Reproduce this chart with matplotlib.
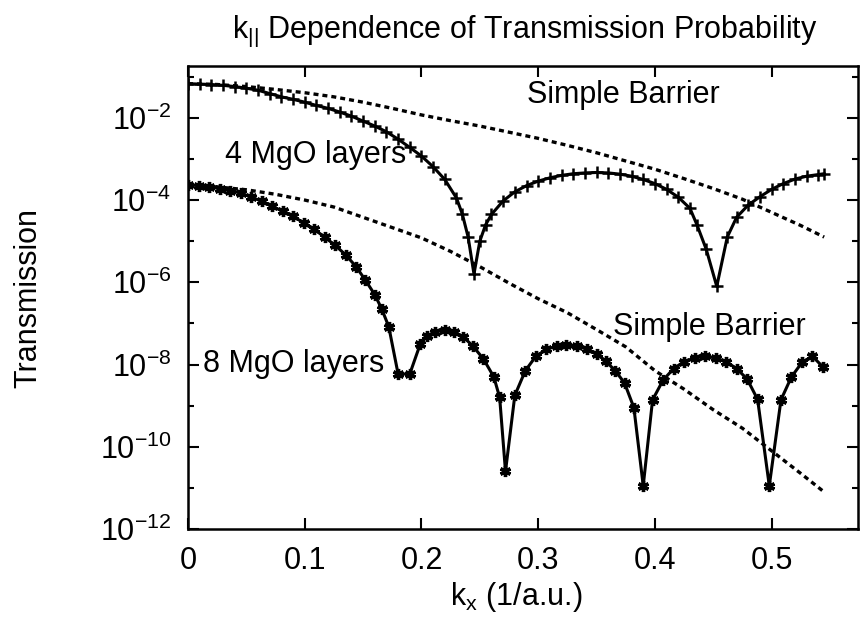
import matplotlib
matplotlib.use("Agg")
import matplotlib.pyplot as plt
import numpy as np

# ---- data (log10 of transmission) ----
k_4mgo = [0, 0.01, 0.02, 0.03, 0.04, 0.05, 0.06, 0.07, 0.08, 0.09, 0.10, 0.11, 0.12,
          0.13, 0.14, 0.15, 0.16, 0.17, 0.18, 0.19, 0.20, 0.21, 0.22, 0.23, 0.235,
          0.24, 0.245, 0.25, 0.255, 0.26, 0.27, 0.28, 0.29, 0.30, 0.31, 0.32, 0.33,
          0.34, 0.35, 0.36, 0.37, 0.38, 0.39, 0.40, 0.41, 0.42, 0.43, 0.436, 0.444,
          0.453, 0.462, 0.47, 0.48, 0.49, 0.50, 0.51, 0.52, 0.53, 0.54, 0.545]
logT_4mgo = [-1.17, -1.18, -1.19, -1.21, -1.24, -1.28, -1.33, -1.41, -1.49, -1.55, -1.62,
             -1.70, -1.77, -1.86, -1.96, -2.08, -2.20, -2.34, -2.52, -2.72, -2.93, -3.19,
             -3.50, -3.95, -4.34, -4.90, -5.80, -5.00, -4.60, -4.35, -4.02, -3.80, -3.65,
             -3.54, -3.46, -3.40, -3.36, -3.34, -3.33, -3.34, -3.37, -3.42, -3.50, -3.60,
             -3.74, -3.93, -4.20, -4.60, -5.20, -6.10, -4.90, -4.42, -4.12, -3.92, -3.74,
             -3.60, -3.49, -3.42, -3.38, -3.36]

k_8mgo = [0, 0.009, 0.018, 0.027, 0.036, 0.045, 0.054, 0.063, 0.072, 0.081, 0.090, 0.099,
          0.108, 0.117, 0.126, 0.135, 0.144, 0.152, 0.160, 0.166, 0.172, 0.180, 0.190,
          0.199, 0.205, 0.212, 0.220, 0.228, 0.236, 0.244, 0.253, 0.262, 0.267, 0.272,
          0.280, 0.289, 0.298, 0.307, 0.316, 0.324, 0.333, 0.342, 0.350, 0.358, 0.366,
          0.374, 0.382, 0.390, 0.398, 0.407, 0.416, 0.425, 0.434, 0.443, 0.452, 0.461,
          0.470, 0.479, 0.488, 0.498, 0.508, 0.517, 0.526, 0.535, 0.544]
logT_8mgo = [-3.63, -3.65, -3.68, -3.72, -3.77, -3.83, -3.92, -4.03, -4.15, -4.27, -4.40,
             -4.55, -4.71, -4.90, -5.10, -5.33, -5.62, -5.95, -6.30, -6.65, -7.08, -8.23,
             -8.23, -7.50, -7.30, -7.20, -7.16, -7.20, -7.33, -7.55, -7.86, -8.30, -8.80,
             -10.60, -8.75, -8.15, -7.80, -7.63, -7.55, -7.52, -7.55, -7.62, -7.74, -7.92,
             -8.15, -8.45, -9.05, -10.95, -8.86, -8.38, -8.10, -7.93, -7.84, -7.80, -7.84,
             -7.93, -8.10, -8.35, -8.85, -10.95, -8.86, -8.30, -7.95, -7.80, -8.06]

k_barrier = [0, 0.025, 0.05, 0.075, 0.1, 0.125, 0.15, 0.175, 0.2, 0.225, 0.25, 0.275,
             0.3, 0.325, 0.35, 0.375, 0.4, 0.425, 0.45, 0.475, 0.5, 0.525, 0.545]
logT_barrier_4 = [-1.17, -1.19, -1.24, -1.31, -1.39, -1.49, -1.62, -1.77, -1.93, -2.07,
                  -2.20, -2.35, -2.50, -2.67, -2.85, -3.05, -3.25, -3.48, -3.72, -3.98,
                  -4.30, -4.62, -4.90]
logT_barrier_8 = [-3.65, -3.68, -3.75, -3.86, -4.00, -4.17, -4.42, -4.67, -4.92, -5.25,
                  -5.62, -6.02, -6.40, -6.74, -7.15, -7.57, -8.15, -8.60, -9.10, -9.55,
                  -10.10, -10.65, -11.10]

xticks = [0, 0.1, 0.2, 0.3, 0.4, 0.5]
xtick_labels = ["0", "0.1", "0.2", "0.3", "0.4", "0.5"]
ytick_exps = [-12, -10, -8, -6, -4, -2]
yminor_exps = [-11, -9, -7, -5, -3, -1]

# ---- style ----
plt.rcParams['font.family'] = ['Liberation Sans', 'DejaVu Sans']
plt.rcParams['mathtext.fontset'] = 'custom'
plt.rcParams['mathtext.rm'] = 'Liberation Sans'
plt.rcParams['mathtext.it'] = 'Liberation Sans'
FS = 22

fig = plt.figure(figsize=(8.6, 6.26), dpi=100)
ax = fig.add_axes([188/860, 1 - 529/626, (858-188)/860, (529-66)/626])

ax.plot(k_4mgo, 10**np.array(logT_4mgo), color='black', lw=2.2,
        marker='+', ms=8, mew=1.8)
ax.plot(k_8mgo, 10**np.array(logT_8mgo), color='black', lw=2.2,
        marker=(6, 2, 0), ms=8, mew=2.4)
ax.plot(k_barrier, 10**np.array(logT_barrier_4), color='black', lw=2.4,
        linestyle=(0, (1.5, 1.2)))
ax.plot(k_barrier, 10**np.array(logT_barrier_8), color='black', lw=2.4,
        linestyle=(0, (1.5, 1.2)))

ax.set_yscale('log')
ax.set_xlim(0, 0.574)
ax.set_ylim(1e-12, 10**-0.74)

ax.set_xticks(xticks)
ax.set_xticklabels(xtick_labels)
ax.set_yticks([10.0**e for e in ytick_exps])
ax.set_yticklabels([r"$\mathregular{10^{%d}}$" % e for e in ytick_exps])
ax.set_yticks([10.0**e for e in yminor_exps], minor=True)
ax.yaxis.set_minor_formatter(matplotlib.ticker.NullFormatter())
ax.xaxis.set_minor_locator(matplotlib.ticker.NullLocator())

ax.tick_params(which='both', direction='in', top=True, right=True, labelsize=FS,
               width=1.5)
ax.tick_params(which='major', length=8, pad=12)
ax.tick_params(which='minor', length=4)
for s in ax.spines.values():
    s.set_linewidth(1.8)

ax.text(0.032, 10**-2.9, "4 MgO layers", fontsize=FS, va='center', ha='left')
ax.text(0.013, 10**-7.99, "8 MgO layers", fontsize=FS, va='center', ha='left')
ax.text(0.29, 10**-1.45, "Simple Barrier", fontsize=FS, va='center', ha='left')
ax.text(0.364, 10**-7.09, "Simple Barrier", fontsize=FS, va='center', ha='left')

ax.set_ylabel("Transmission", fontsize=FS, va='center')
ax.yaxis.set_label_coords(-(188-28)/670, 0.5)
ax.set_xlabel(r"k$_\mathregular{x}$ (1/a.u.)", fontsize=FS)
ax.xaxis.set_label_coords(0.49, -(597-529)/463)
ax.xaxis.label.set_va('center')

fig.text(525/860, 1 - 31/626,
         r"k$_{\mathregular{||}}$ Dependence of Transmission Probability",
         fontsize=FS, ha='center', va='center')

fig.savefig("out.png", dpi=100)
